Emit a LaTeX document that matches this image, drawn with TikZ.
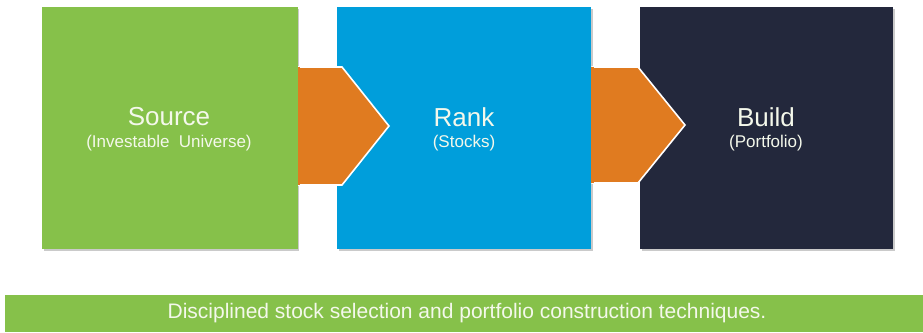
\documentclass[tikz,border=0pt]{standalone}
\usepackage{fontspec}
\setmainfont{Liberation Sans}
\usetikzlibrary{shadows}
\definecolor{cgreen}{RGB}{134,193,74}
\definecolor{cblue}{RGB}{0,158,219}
\definecolor{cnavy}{RGB}{35,40,60}
\definecolor{corange}{RGB}{224,123,32}
\definecolor{ctext}{RGB}{244,248,235}
\tikzset{
  stage/.style={draw=none, minimum width=255pt, minimum height=242pt, inner sep=0pt,
    drop shadow={shadow xshift=2pt, shadow yshift=-2pt, opacity=0.35, fill=black!60}},
  chev/.style={fill=corange, draw=white, line width=1.6pt, line join=miter},
  title/.style={text=ctext, font=\fontsize{26}{29}\selectfont},
  sub/.style={text=ctext, font=\fontsize{17}{20}\selectfont},
}
\begin{document}
\begin{tikzpicture}[x=1pt,y=-1pt]
\useasboundingbox (0,0) rectangle (923,332);
% stages
\node[stage, fill=cgreen, anchor=north west] (src) at (42,7) {};
\node[stage, fill=cblue, anchor=north west, minimum width=254pt] (rnk) at (337,7) {};
\node[stage, fill=cnavy, anchor=north west, minimum width=253pt] (bld) at (640,7) {};
% chevrons
\draw[chev] (src.east |- 0,67) -- (342,67) -- (389,126) -- (342,185) -- (src.east |- 0,185);
\fill[corange] (src.east |- 0,67) rectangle (300,185);
\draw[chev] (rnk.east |- 0,67) -- (638,67) -- (685,125) -- (638,183) -- (rnk.east |- 0,183);
\fill[corange] (rnk.east |- 0,67) rectangle (594,183);
\fill[cgreen] (src.north east) rectangle (src.south east -| 297.6,0);
% texts
\node[title] (t1) at (169,117) {Source};
\node[sub] (s1) at (169,143) {(Investable\ \ Universe)};
\node[title] (t2) at (464,117) {Rank};
\node[sub] (s2) at (464,143) {(Stocks)};
\node[title] (t3) at (766,117) {Build};
\node[sub] (s3) at (766,143) {(Portfolio)};
% bottom bar
\fill[cgreen] (5,295) rectangle (923,332);
\node[text=ctext, font=\fontsize{21}{24}\selectfont] (bar) at (467,313) {Disciplined stock selection and portfolio construction techniques.};
\end{tikzpicture}
\end{document}
